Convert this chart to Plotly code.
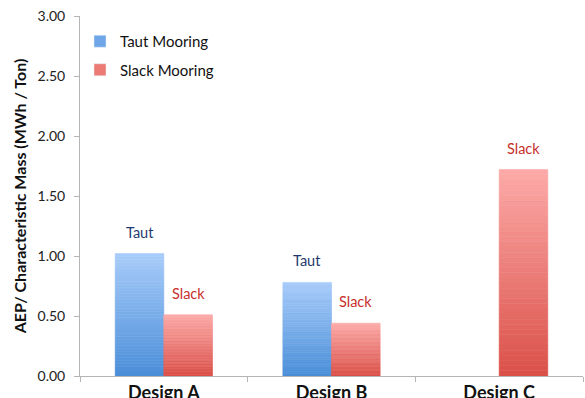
import plotly.graph_objects as go

designs = ["Design A", "Design B", "Design C"]
taut = [1.02, 0.78, None]
slack = [0.51, 0.44, 1.72]
y_ticks = [0.0, 0.5, 1.0, 1.5, 2.0, 2.5, 3.0]

BAR_W = 0.29
STEPS = 40
FONT = "Lato, Open Sans, sans-serif"


def mix(c_bottom, c_top, t):
    return "rgb({},{},{})".format(*[round(a + (b - a) * t) for a, b in zip(c_bottom, c_top)])


series = [
    dict(name="Taut Mooring", label="Taut", values=taut, offset=-BAR_W,
         bottom=(74, 142, 216), top=(168, 204, 250), swatch="#6fa6e8", text="#1f3a70"),
    dict(name="Slack Mooring", label="Slack", values=slack, offset=0.0,
         bottom=(218, 80, 72), top=(252, 170, 168), swatch="#ec7b76", text="#c8302c"),
]

fig = go.Figure()

for s in series:
    vals = s["values"]
    # each bar is built from thin stacked slices shading from dark (bottom) to light (top)
    for k in range(STEPS):
        col = mix(s["bottom"], s["top"], (k + 0.5) / STEPS)
        fig.add_trace(go.Bar(
            x=designs,
            y=[None if v is None else v / STEPS for v in vals],
            base=[None if v is None else v * k / STEPS for v in vals],
            offset=s["offset"], width=BAR_W,
            marker=dict(color=col, line=dict(color=col, width=0.6)),
            showlegend=False, hoverinfo="skip",
        ))
    # legend entry
    fig.add_trace(go.Bar(
        x=[designs[0]], y=[None], name=s["name"], legendgroup=s["name"],
        marker=dict(color=s["swatch"]),
    ))
    for i, v in enumerate(vals):
        if v is None:
            continue
        fig.add_annotation(
            x=i + s["offset"] + BAR_W / 2, y=v, text=s["label"],
            showarrow=False, yanchor="bottom", yshift=11,
            font=dict(family=FONT, size=14.5, color=s["text"]),
        )

fig.update_layout(
    width=585, height=398,
    margin=dict(l=80, r=2, t=16, b=22),
    barmode="overlay",
    plot_bgcolor="white", paper_bgcolor="white",
    font=dict(family=FONT, size=15, color="#222"),
    legend=dict(x=0.0, y=0.975, xanchor="left", yanchor="top",
                traceorder="grouped", tracegroupgap=6,
                font=dict(family=FONT, size=15, color="#111"),
                bgcolor="rgba(0,0,0,0)", itemwidth=30),
)
fig.update_xaxes(
    type="category", range=[-0.5, 2.5], automargin=False,
    showline=True, linecolor="#b5b5b5", linewidth=1,
    ticks="outside", tickson="boundaries", ticklen=5, tickcolor="#b5b5b5",
    ticklabelstandoff=0,
    tickfont=dict(family=FONT, size=18, color="#111", weight="bold"),
    showgrid=False,
)
fig.update_yaxes(
    range=[0, 3], tickvals=y_ticks, tickformat=".2f", automargin=False,
    showline=True, linecolor="#b5b5b5", linewidth=1,
    ticks="outside", ticklen=5, tickcolor="#b5b5b5",
    ticklabelstandoff=6,
    showgrid=False, zeroline=False,
    tickfont=dict(family=FONT, size=14, color="#222"),
    title=dict(text="<b>AEP/ Characteristic Mass (MWh / Ton)</b>",
               font=dict(family=FONT, size=16, color="#111"), standoff=6),
)

fig.write_html("out.html")
